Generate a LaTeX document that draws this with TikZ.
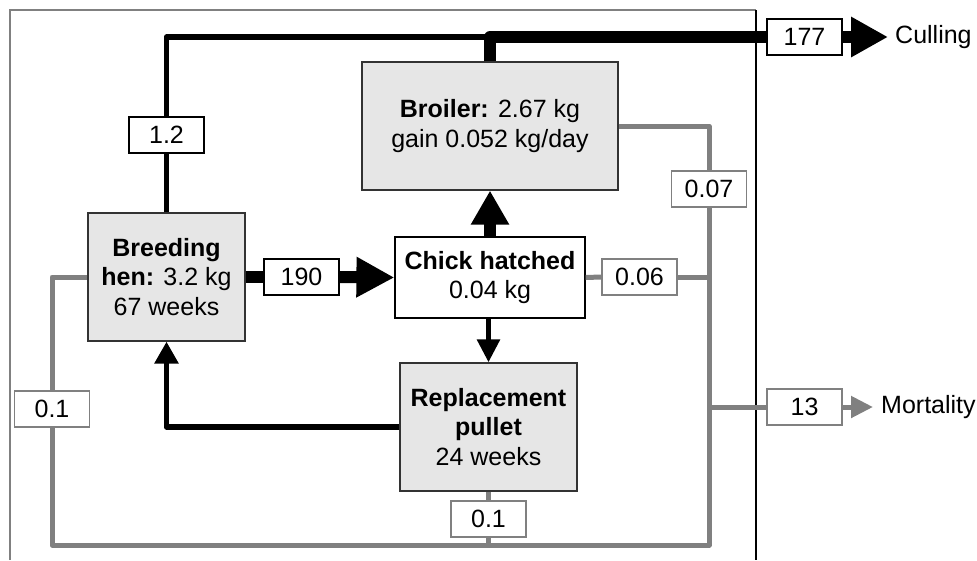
\documentclass[tikz,border=0pt]{standalone}
\usepackage{fontspec}
\setmainfont{Liberation Sans}
\usetikzlibrary{arrows.meta}
\definecolor{flowgray}{HTML}{808080}
\definecolor{boxfill}{HTML}{E6E6E6}
\begin{document}
\begin{tikzpicture}[x=1pt,y=-1pt,
  every node/.style={font=\fontsize{25}{29.5}\selectfont, inner sep=0pt},
  stock/.style={draw=black!80, fill=boxfill, line width=1.2pt, align=center, minimum height=128pt},
  numbox/.style={draw=black, fill=white, line width=1.2pt, minimum width=75pt, minimum height=36pt},
  graynum/.style={numbox, draw=flowgray},
  thinflow/.style={line width=5.5pt, line join=round},
  thickflow/.style={line width=12pt, line join=round},
  grayflow/.style={line width=5pt, draw=flowgray, line join=round},
]
\useasboundingbox (0,0) rectangle (977,560);
% frame
\draw[flowgray, line width=1.2pt] (10,560) -- (10,10) -- (756,10);
\draw[black, line width=1.2pt] (756,10) -- (756,560);

% stocks
\node[stock, minimum width=157pt] (hen) at (166.5,277) {\textbf{Breeding}\\\textbf{hen:} 3.2 kg\\67 weeks};
\node[stock, minimum width=256pt] (broiler) at (490,126) {\textbf{Broiler:} 2.67 kg\\gain 0.052 kg/day};
\node[draw=black, fill=white, line width=1.2pt, align=center, minimum width=190pt, minimum height=81pt] (chick) at (490,277.5) {\textbf{Chick hatched}\\0.04 kg};
\node[stock, minimum width=177pt] (pullet) at (488.5,427) {\textbf{Replacement}\\\textbf{pullet}\\24 weeks};

% flow labels
\node[numbox] (n12) at (166.5,135) {1.2};
\node[numbox] (n190) at (301.5,277) {190};
\node[numbox] (n177) at (804.5,37) {177};
\node[graynum] (n007) at (709,189) {0.07};
\node[graynum] (n006) at (639.5,277) {0.06};
\node[graynum] (n01a) at (52,409) {0.1};
\node[graynum] (n01b) at (488.5,519) {0.1};
\node[graynum] (n13) at (804.5,407) {13};

% outputs
\node[anchor=west] (culling) at (895,37) {Culling};
\node[anchor=west] (mortality) at (881,407) {Mortality};

\coordinate (top) at (490,37);
\coordinate (bl) at (52,545);

% gray flows
\draw[grayflow] (broiler.east) -| (n007.north);
\draw[grayflow] (n007.south) |- (bl) -- (n01a.south);
\draw[grayflow] (n01a.north) |- (hen.west);
\draw[grayflow] (chick.east) -- (n006.west);
\draw[grayflow] (n006.east) -- (n006.east -| n007);
\draw[grayflow] (pullet.south) -- (n01b.north);
\draw[grayflow] (n01b.south) -- (n01b |- bl);
\draw[grayflow] (n13.west -| n007) -- (n13.west);
\draw[grayflow, -{Triangle[length=22pt,width=21pt]}, flowgray] (n13.east) -- ([xshift=-8pt]mortality.west);

% black flows
\draw[thinflow] (hen.north) -- (n12.south);
\draw[thinflow] (n12.north) |- (top);
\draw[thickflow] (broiler.north) -- (top) -- (n177.west);
\draw[thickflow, -{Triangle[length=37pt,width=38pt]}] (n177.east) -- ([xshift=-7pt]culling.west);
\draw[thickflow] (hen.east) -- (n190.west);
\draw[thickflow, -{Triangle[length=38pt,width=38pt]}] (n190.east) -- (chick.west);
\draw[thickflow, -{Triangle[length=34pt,width=36pt]}] (chick.north) -- (broiler.south);
\draw[thinflow, -{Triangle[length=23pt,width=22pt]}] (pullet.north |- chick.south) -- (pullet.north);
\draw[thinflow, -{Triangle[length=22pt,width=23pt]}] (pullet.west) -| (hen.south);
\end{tikzpicture}
\end{document}
